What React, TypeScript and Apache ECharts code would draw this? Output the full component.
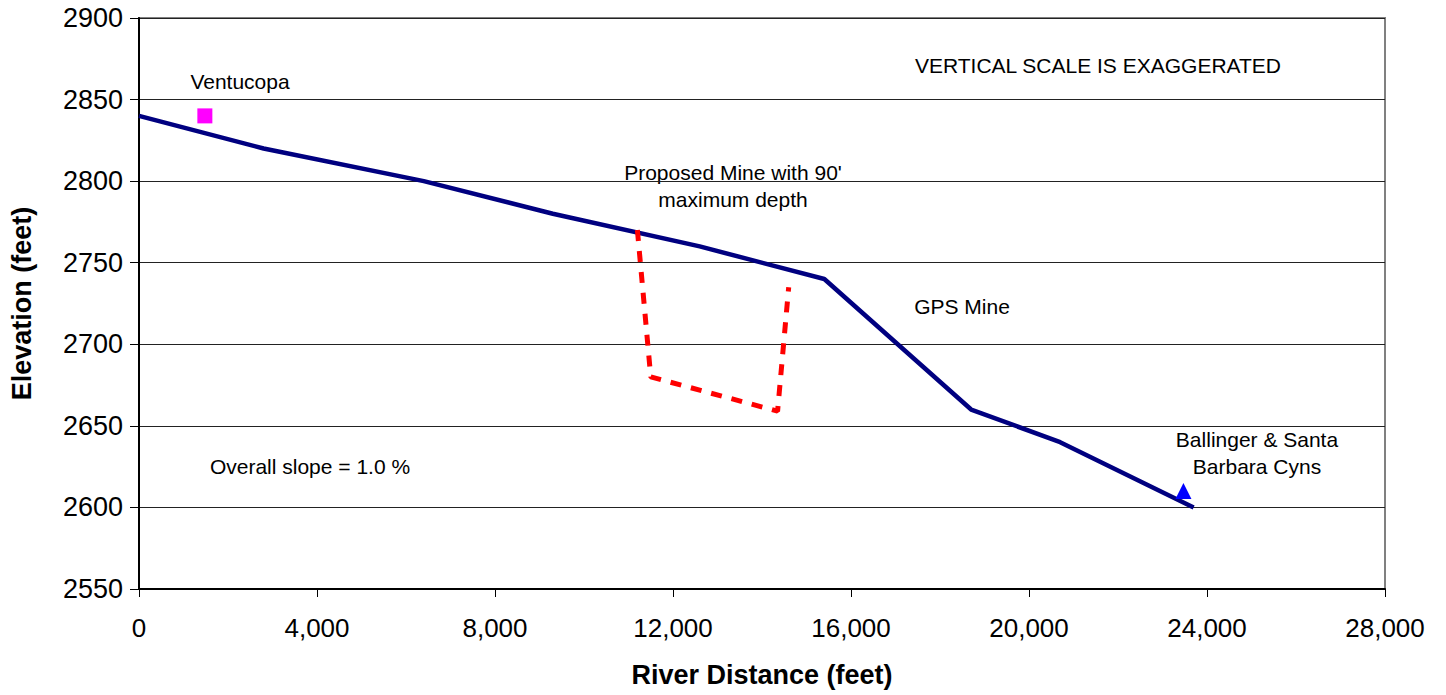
import React, { useEffect, useRef } from "react";
import * as echarts from "echarts";

const profileX = [0, 2800, 6400, 9300, 12600, 15400, 18700, 20700, 23700];
const profileY = [2840, 2820, 2800, 2780, 2760, 2740, 2660, 2640, 2600];
const mineX = [11200, 11500, 14350, 14600];
const mineY = [2770, 2680, 2659, 2735];
const ventucopa = [1480, 2840];
const ballinger = [23470, 2610];
const xTicks = { min: 0, max: 28000, interval: 4000 };
const yTicks = { min: 2550, max: 2900, interval: 50 };

const FONT = "Liberation Sans, Arial, sans-serif";

export default function App() {
  const ref = useRef<HTMLDivElement>(null);
  useEffect(() => {
    if (!ref.current) return;
    const chart = echarts.init(ref.current, null, { renderer: "svg" });
    const txt = (x: number, y: number, t: string) => ({
      type: "text",
      x,
      y,
      style: {
        text: t,
        font: `21px ${FONT}`,
        fill: "#000",
        align: "center",
        verticalAlign: "middle",
        lineHeight: 27,
      },
    });
    chart.setOption({
      animation: false,
      backgroundColor: "#fff",
      grid: {
        left: 137,
        right: 61,
        top: 18,
        bottom: 106,
        show: true,
        borderColor: "#808080",
        borderWidth: 2,
        backgroundColor: "transparent",
      },
      xAxis: {
        type: "value",
        min: xTicks.min,
        max: xTicks.max,
        interval: xTicks.interval,
        name: "River Distance (feet)",
        nameLocation: "middle",
        nameGap: 72,
        nameTextStyle: { fontFamily: FONT, fontSize: 27, fontWeight: "bold", color: "#000" },
        axisLine: { show: true, onZero: false, lineStyle: { color: "#000", width: 2 } },
        axisTick: { show: true, length: 8, lineStyle: { color: "#000", width: 1 } },
        axisLabel: {
          fontFamily: FONT,
          fontSize: 26,
          color: "#000",
          margin: 26,
          formatter: (v: number) => v.toLocaleString("en-US"),
        },
        splitLine: { show: false },
      },
      yAxis: {
        type: "value",
        min: yTicks.min,
        max: yTicks.max,
        interval: yTicks.interval,
        name: "Elevation (feet)",
        nameLocation: "middle",
        nameGap: 104,
        nameTextStyle: { fontFamily: FONT, fontSize: 27, fontWeight: "bold", color: "#000" },
        axisLine: { show: true, lineStyle: { color: "#000", width: 2 } },
        axisTick: { show: true, length: 9, lineStyle: { color: "#000", width: 1 } },
        axisLabel: {
          fontFamily: FONT,
          fontSize: 27,
          color: "#000",
          margin: 16,
          formatter: (v: number) => String(v),
        },
        splitLine: { show: true, lineStyle: { color: "#222", width: 1 } },
      },
      series: [
        {
          type: "line",
          data: profileX.map((x, i) => [x, profileY[i]]),
          showSymbol: false,
          symbol: "none",
          lineStyle: { color: "#000080", width: 4.5 },
          z: 3,
        },
        {
          type: "line",
          data: mineX.map((x, i) => [x, mineY[i]]),
          showSymbol: false,
          symbol: "none",
          lineStyle: { color: "#ff0000", width: 5, type: [11, 10] },
          z: 4,
        },
        {
          type: "scatter",
          data: [ventucopa],
          symbol: "rect",
          symbolSize: 15,
          itemStyle: { color: "#ff00ff", opacity: 1 },
          z: 5,
        },
        {
          type: "scatter",
          data: [ballinger],
          symbol: "triangle",
          symbolSize: [16, 16],
          itemStyle: { color: "#0000ff", opacity: 1 },
          z: 5,
        },
      ],
      graphic: [
        txt(1098, 65, "VERTICAL SCALE IS EXAGGERATED"),
        txt(240, 81, "Ventucopa"),
        txt(733, 186, "Proposed Mine with 90'\nmaximum depth"),
        txt(962, 306, "GPS Mine"),
        txt(1257, 453, "Ballinger & Santa\nBarbara Cyns"),
        txt(310, 466, "Overall slope = 1.0 %"),
      ],
    });
    return () => chart.dispose();
  }, []);
  return (
    <div
      ref={ref}
      style={{ position: "absolute", left: 0, top: 0, width: 1446, height: 695 }}
    />
  );
}
